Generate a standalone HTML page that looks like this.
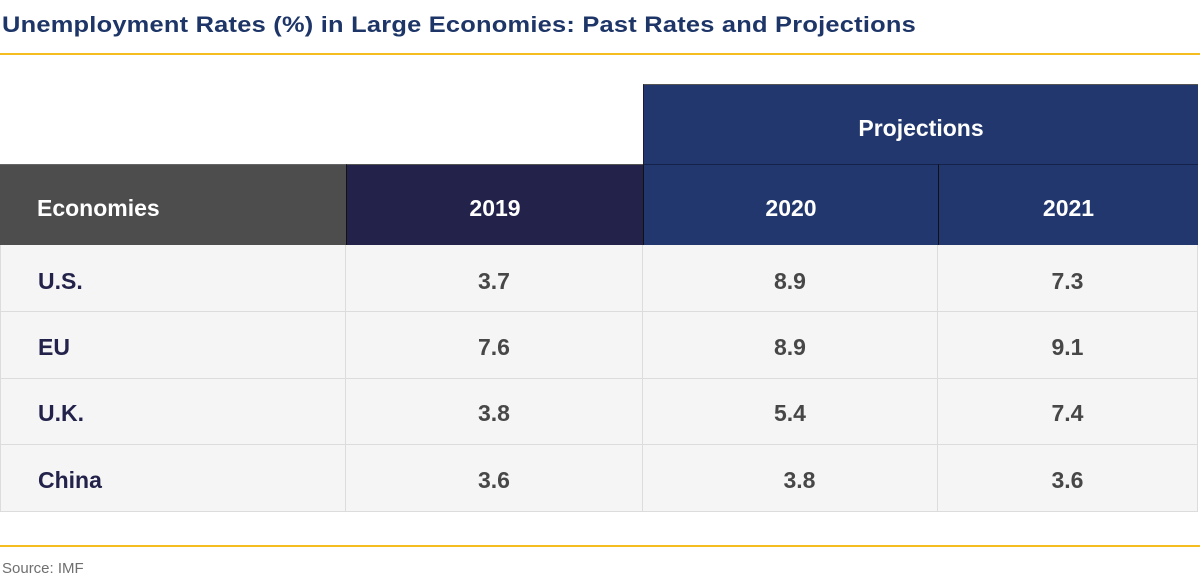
<!DOCTYPE html>
<html>
<head>
<meta charset="utf-8">
<style>
  html,body{margin:0;padding:0;background:#fff;}
  body{width:1200px;height:582px;position:relative;overflow:hidden;font-family:"Liberation Sans",Arial,sans-serif;}
  .abs{position:absolute;box-sizing:border-box;}
  .title{left:2px;top:10px;font-size:22px;font-weight:bold;color:#1d3567;white-space:nowrap;letter-spacing:0.2px;transform:scaleX(1.155);transform-origin:0 0;line-height:30px;}
  .yl{left:0;width:1200px;height:2px;background:#f5bd1f;}
  .cell{font-size:23px;font-weight:bold;white-space:nowrap;}
  .hd{color:#fff;text-align:center;}
  .dc{background:#f5f5f5;border-right:1px solid #dcdcdc;border-bottom:1px solid #dcdcdc;color:#474747;text-align:center;}
  .lbl{color:#22224a;text-align:left;padding-left:37px;border-left:1px solid #dcdcdc;}
</style>
</head>
<body>
<div class="abs title">Unemployment Rates (%) in Large Economies: Past Rates and Projections</div>
<div class="abs yl" style="top:53px;"></div>

<!-- Projections header -->
<div class="abs cell hd" style="left:643px;top:84px;width:555px;height:81px;background:#22376e;border-top:1px solid #555;border-left:1px solid #1a1a3a;line-height:80px;padding-top:3px;">Projections</div>

<!-- Header row -->
<div class="abs cell hd" style="left:0;top:164px;width:346px;height:81px;background:#4d4d4d;border-top:1px solid #666;text-align:left;padding-left:37px;line-height:80px;padding-top:3px;">Economies</div>
<div class="abs cell hd" style="left:346px;top:164px;width:297px;height:81px;background:#22224a;border-top:1px solid #555;border-left:1px solid #111;line-height:80px;padding-top:3px;">2019</div>
<div class="abs cell hd" style="left:643px;top:164px;width:295px;height:81px;background:#22376e;border-top:1px solid #14224a;border-left:1px solid #111;line-height:80px;padding-top:3px;">2020</div>
<div class="abs cell hd" style="left:938px;top:164px;width:260px;height:81px;background:#22376e;border-top:1px solid #14224a;border-left:1px solid #111;line-height:80px;padding-top:3px;">2021</div>

<!-- Row 1 -->
<div class="abs cell dc lbl" style="left:0;top:245px;width:346px;height:67px;line-height:66px;padding-top:3px;">U.S.</div>
<div class="abs cell dc" style="left:346px;top:245px;width:297px;height:67px;line-height:66px;padding-top:3px;">3.7</div>
<div class="abs cell dc" style="left:643px;top:245px;width:295px;height:67px;line-height:66px;padding-top:3px;">8.9</div>
<div class="abs cell dc" style="left:938px;top:245px;width:260px;height:67px;line-height:66px;padding-top:3px;">7.3</div>

<!-- Row 2 -->
<div class="abs cell dc lbl" style="left:0;top:312px;width:346px;height:67px;line-height:66px;padding-top:2px;">EU</div>
<div class="abs cell dc" style="left:346px;top:312px;width:297px;height:67px;line-height:66px;padding-top:2px;">7.6</div>
<div class="abs cell dc" style="left:643px;top:312px;width:295px;height:67px;line-height:66px;padding-top:2px;">8.9</div>
<div class="abs cell dc" style="left:938px;top:312px;width:260px;height:67px;line-height:66px;padding-top:2px;">9.1</div>

<!-- Row 3 -->
<div class="abs cell dc lbl" style="left:0;top:379px;width:346px;height:66px;line-height:65px;padding-top:2px;">U.K.</div>
<div class="abs cell dc" style="left:346px;top:379px;width:297px;height:66px;line-height:65px;padding-top:2px;">3.8</div>
<div class="abs cell dc" style="left:643px;top:379px;width:295px;height:66px;line-height:65px;padding-top:2px;">5.4</div>
<div class="abs cell dc" style="left:938px;top:379px;width:260px;height:66px;line-height:65px;padding-top:2px;">7.4</div>

<!-- Row 4 -->
<div class="abs cell dc lbl" style="left:0;top:445px;width:346px;height:67px;line-height:66px;padding-top:2px;">China</div>
<div class="abs cell dc" style="left:346px;top:445px;width:297px;height:67px;line-height:66px;padding-top:2px;">3.6</div>
<div class="abs cell dc" style="left:643px;top:445px;width:295px;height:67px;line-height:66px;padding-top:2px;padding-left:19px;">3.8</div>
<div class="abs cell dc" style="left:938px;top:445px;width:260px;height:67px;line-height:66px;padding-top:2px;">3.6</div>

<div class="abs yl" style="top:545px;"></div>
<div class="abs" style="left:2px;top:559px;font-size:15px;color:#6f6f6f;line-height:20px;white-space:nowrap;">Source: IMF</div>
</body>
</html>
